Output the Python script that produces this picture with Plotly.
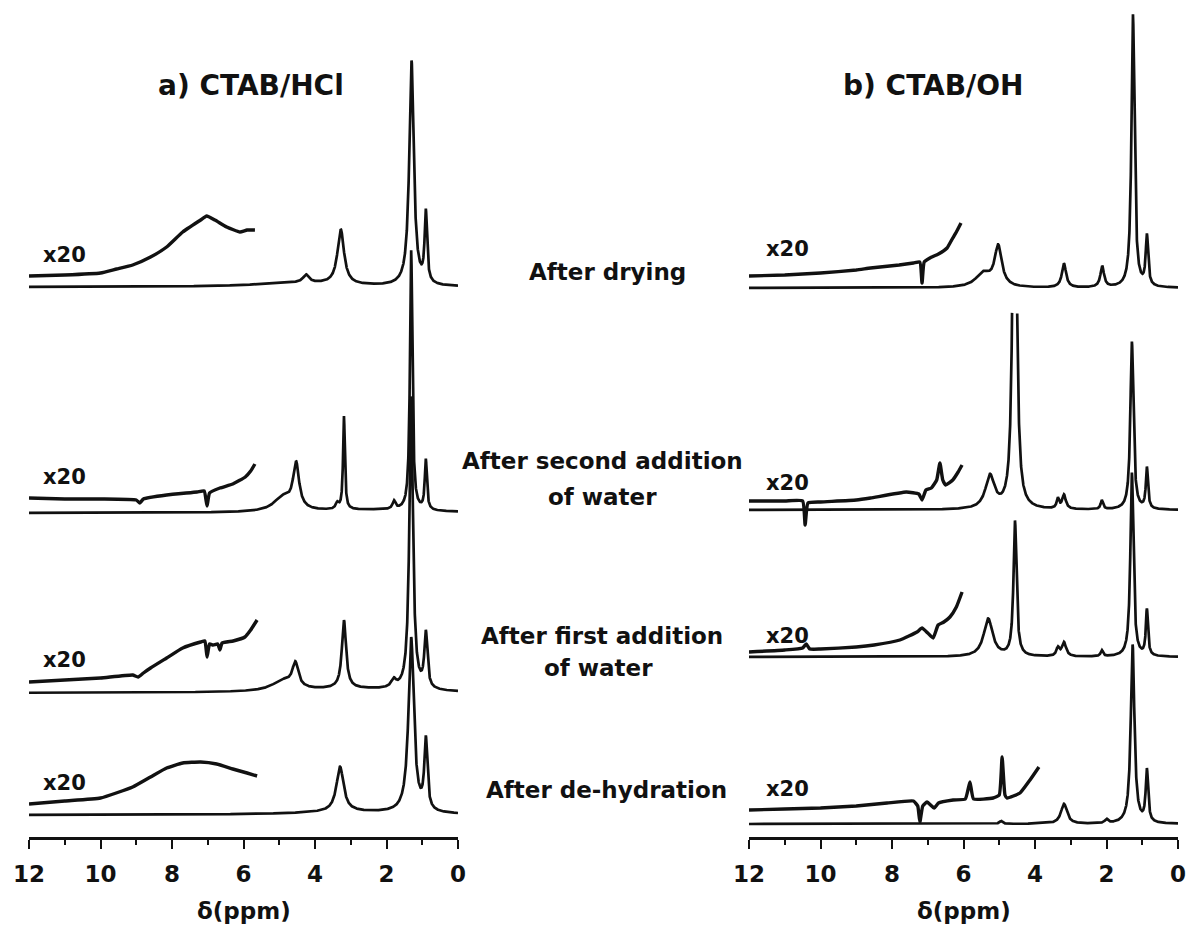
import numpy as np
import plotly.graph_objects as go

# ---------------- DATA ----------------
ppm_ticks = [12, 10, 8, 6, 4, 2, 0]
tick_labels = ["12", "10", "8", "6", "4", "2", "0"]

# Panel a) CTAB/HCl : peak lists (ppm, height [a.u.], half width [ppm])
hcl_drying_ppm = [1.30, 0.90, 3.28, 4.25, 4.5]
hcl_drying_h = [225, 70, 55, 8, 4]
hcl_drying_w = [0.075, 0.04, 0.11, 0.10, 1.5]

hcl_second_ppm = [1.31, 3.19, 4.53, 4.90, 0.90, 1.79, 3.38, 2.5]
hcl_second_h = [260, 93, 45, 14, 50, 8, 6, 3]
hcl_second_w = [0.04, 0.03, 0.10, 0.30, 0.035, 0.05, 0.05, 2.0]

hcl_first_ppm = [1.31, 3.19, 4.55, 4.90, 0.90, 1.80, 3.0]
hcl_first_h = [293, 68, 24, 10, 55, 8, 4]
hcl_first_w = [0.06, 0.07, 0.10, 0.35, 0.05, 0.08, 2.0]

hcl_dehyd_ppm = [1.31, 0.90, 3.30, 3.0]
hcl_dehyd_h = [175, 70, 45, 3]
hcl_dehyd_w = [0.09, 0.05, 0.12, 2.0]

# Panel b) CTAB/OH
oh_drying_ppm = [1.26, 0.87, 5.03, 5.45, 3.19, 2.12]
oh_drying_h = [273, 50, 40, 14, 24, 21]
oh_drying_w = [0.05, 0.04, 0.12, 0.25, 0.07, 0.06]

oh_second_ppm = [4.57, 5.26, 1.29, 0.87, 3.36, 3.19, 2.13]
oh_second_h = [600, 33, 168, 41, 10, 14, 9]
oh_second_w = [0.05, 0.15, 0.05, 0.035, 0.04, 0.06, 0.04]
oh_second_clip = 200

oh_first_ppm = [4.56, 5.31, 3.36, 3.19, 2.13, 1.29, 0.87]
oh_first_h = [135, 38, 8, 14, 6, 184, 46]
oh_first_w = [0.05, 0.15, 0.05, 0.07, 0.04, 0.05, 0.035]

oh_dehyd_ppm = [1.27, 0.87, 3.19, 2.0, 4.95]
oh_dehyd_h = [179, 52, 20, 4, 3]
oh_dehyd_w = [0.06, 0.04, 0.10, 0.05, 0.05]

# x20 expansions (ppm, intensity above the spectrum baseline)
hcl_drying_x20_ppm = [12.0, 11.0, 10.0, 9.55, 9.1, 8.6, 8.15, 7.7, 7.2, 7.03, 6.8, 6.47, 6.1, 5.9, 5.68]
hcl_drying_x20_int = [11, 12, 14, 18, 22, 30, 40, 55, 67, 71, 67, 60, 55, 57, 57]

hcl_second_x20_ppm = [12.0, 11.0, 10.0, 9.0, 8.9, 8.8, 8.15, 7.3, 7.1, 7.02, 6.95, 6.66, 6.3, 5.95, 5.8, 5.68]
hcl_second_x20_int = [15, 14, 14, 13, 10, 14, 18, 21, 22, 7, 20, 25, 29, 36, 42, 49]

hcl_first_x20_ppm = [12.0, 11.0, 10.0, 9.1, 8.95, 8.8, 8.6, 8.15, 7.7, 7.2, 7.08, 7.02, 6.95, 6.85, 6.72, 6.66, 6.6, 6.29, 5.96, 5.8, 5.62]
hcl_first_x20_int = [11, 13, 15, 18, 16, 20, 25, 35, 45, 51, 52, 36, 49, 48, 49, 43, 50, 52, 56, 63, 73]

hcl_dehyd_x20_ppm = [12.0, 11.0, 10.0, 9.1, 8.6, 8.15, 7.7, 7.2, 6.75, 6.3, 5.9, 5.62]
hcl_dehyd_x20_int = [11, 14, 17, 28, 38, 47, 52, 53, 51, 46, 42, 39]

oh_drying_x20_ppm = [12.0, 11.0, 10.0, 9.0, 8.6, 7.8, 7.4, 7.22, 7.16, 7.1, 6.94, 6.7, 6.46, 6.3, 6.2, 6.07]
oh_drying_x20_int = [12, 13, 15, 18, 20, 23, 25, 26, 5, 26, 30, 34, 40, 50, 56, 65]

oh_second_x20_ppm = [12.0, 11.0, 10.5, 10.43, 10.35, 10.0, 9.0, 8.6, 7.6, 7.25, 7.16, 7.05, 6.9, 6.75, 6.66, 6.58, 6.5, 6.3, 6.15, 6.04]
oh_second_x20_int = [9, 9, 9, -15, 7, 8, 10, 12, 18, 16, 10, 20, 22, 30, 47, 30, 25, 30, 38, 45]

oh_first_x20_ppm = [12.0, 11.0, 10.5, 10.4, 10.3, 10.0, 9.0, 8.5, 7.78, 7.3, 7.16, 7.0, 6.85, 6.71, 6.55, 6.38, 6.2, 6.04]
oh_first_x20_int = [5, 7, 9, 13, 8, 8, 10, 12, 17, 25, 29, 24, 19, 32, 35, 40, 50, 65]

oh_dehyd_x20_ppm = [12.0, 11.0, 10.0, 9.0, 8.14, 7.4, 7.28, 7.22, 7.14, 7.02, 6.82, 6.7, 6.29, 5.95, 5.82, 5.72,
                    5.17, 5.0, 4.92, 4.84, 4.78, 4.42, 4.14, 3.89]
oh_dehyd_x20_int = [14, 15, 16, 18, 21, 23, 18, 2, 18, 22, 16, 21, 24, 25, 42, 25,
                    26, 29, 67, 29, 26, 31, 44, 57]

sample_labels = [["After drying"], ["After second addition", "of water"],
                 ["After first addition", "of water"], ["After de-hydration"]]
panel_titles = ["a) CTAB/HCl", "b) CTAB/OH"]

# ---------------- LAYOUT CONSTANTS ----------------
W, H = 1190, 929
AX_Y = 837  # pixel row of the x axes
hcl_base = [287, 513, 693, 815]
oh_base = [288, 510, 657, 824]
INK = "#111111"
FONT = "DejaVu Sans"

grid = np.linspace(12, 0, 6001)


def lorentz_sum(ppm, h, w):
    y = np.zeros_like(grid)
    for p, a, g in zip(ppm, h, w):
        y += a * g * g / ((grid - p) ** 2 + g * g)
    return y


def off(base_px):
    return AX_Y - base_px


fig = go.Figure()

hcl_main = [(hcl_drying_ppm, hcl_drying_h, hcl_drying_w),
            (hcl_second_ppm, hcl_second_h, hcl_second_w),
            (hcl_first_ppm, hcl_first_h, hcl_first_w),
            (hcl_dehyd_ppm, hcl_dehyd_h, hcl_dehyd_w)]
hcl_x20 = [(hcl_drying_x20_ppm, hcl_drying_x20_int),
           (hcl_second_x20_ppm, hcl_second_x20_int),
           (hcl_first_x20_ppm, hcl_first_x20_int),
           (hcl_dehyd_x20_ppm, hcl_dehyd_x20_int)]
oh_main = [(oh_drying_ppm, oh_drying_h, oh_drying_w),
           (oh_second_ppm, oh_second_h, oh_second_w),
           (oh_first_ppm, oh_first_h, oh_first_w),
           (oh_dehyd_ppm, oh_dehyd_h, oh_dehyd_w)]
oh_x20 = [(oh_drying_x20_ppm, oh_drying_x20_int),
          (oh_second_x20_ppm, oh_second_x20_int),
          (oh_first_x20_ppm, oh_first_x20_int),
          (oh_dehyd_x20_ppm, oh_dehyd_x20_int)]

for panel, (mains, x20s, bases, xa, ya) in enumerate([
        (hcl_main, hcl_x20, hcl_base, "x", "y"),
        (oh_main, oh_x20, oh_base, "x2", "y2")]):
    for i, ((pp, hh, ww), (xp, xi), b) in enumerate(zip(mains, x20s, bases)):
        y = lorentz_sum(pp, hh, ww)
        if panel == 1 and i == 1:
            y = np.where(y > oh_second_clip, np.nan, y)
        fig.add_trace(go.Scatter(x=grid, y=y + off(b), mode="lines", xaxis=xa, yaxis=ya,
                                 line=dict(color=INK, width=2.7), hoverinfo="skip",
                                 showlegend=False, connectgaps=False))
        fig.add_trace(go.Scatter(x=xp, y=np.array(xi, float) + off(b), mode="lines",
                                 xaxis=xa, yaxis=ya,
                                 line=dict(color=INK, width=3.4, shape="spline", smoothing=0.4),
                                 hoverinfo="skip", showlegend=False))

axis_common = dict(range=[12, 0], tickmode="array", tickvals=ppm_ticks, ticktext=tick_labels,
                   ticks="outside", ticklen=9, tickwidth=2, tickcolor=INK, automargin=False,
                   ticklabelstandoff=6,
                   showline=True, linewidth=2.5, linecolor=INK, showgrid=False, zeroline=False,
                   tickfont=dict(family=FONT, size=23, color=INK, weight="bold"),
                   minor=dict(ticks="outside", ticklen=5, tickwidth=2, tickcolor=INK,
                              tickmode="linear", tick0=0, dtick=1, showgrid=False))
yaxis_common = dict(range=[0, AX_Y], domain=[0, 1], visible=False, showgrid=False,
                    zeroline=False, automargin=False)

fig.update_layout(
    width=W, height=H, margin=dict(l=0, r=0, t=0, b=H - AX_Y, autoexpand=False),
    paper_bgcolor="white", plot_bgcolor="white",
    xaxis=dict(domain=[29 / W, 458 / W], anchor="y", **axis_common),
    xaxis2=dict(domain=[749 / W, 1178 / W], anchor="y2", **axis_common),
    yaxis=dict(anchor="x", **yaxis_common),
    yaxis2=dict(anchor="x2", **yaxis_common),
)


def px2paper(px, py):
    return px / W, (AX_Y - py) / AX_Y


def label(text, px, py, size):
    x, y = px2paper(px, py)
    fig.add_annotation(x=x, y=y, xref="paper", yref="paper", text=text, showarrow=False,
                       xanchor="center", yanchor="middle",
                       font=dict(family=FONT, size=size, color=INK, weight="bold"))


label(panel_titles[0], 251, 85, 28)
label(panel_titles[1], 933, 85, 28)

mid_pos = [[(607, 272)], [(602, 461), (602, 497)], [(602, 636), (598, 668)], [(606, 790)]]
for lines, poss in zip(sample_labels, mid_pos):
    for t, (px, py) in zip(lines, poss):
        label(t, px, py, 23)

for py in [255, 477, 660, 783]:
    label("x20", 64, py, 21)
for py in [249, 483, 636, 789]:
    label("x20", 787, py, 21)

label("δ(ppm)", 244, 911, 23)
label("δ(ppm)", 964, 911, 23)

fig.write_html(
    "out.html",
    config={"displayModeBar": False, "staticPlot": True},
    post_script="document.body.style.margin='0';document.body.style.overflow='hidden';",
)
